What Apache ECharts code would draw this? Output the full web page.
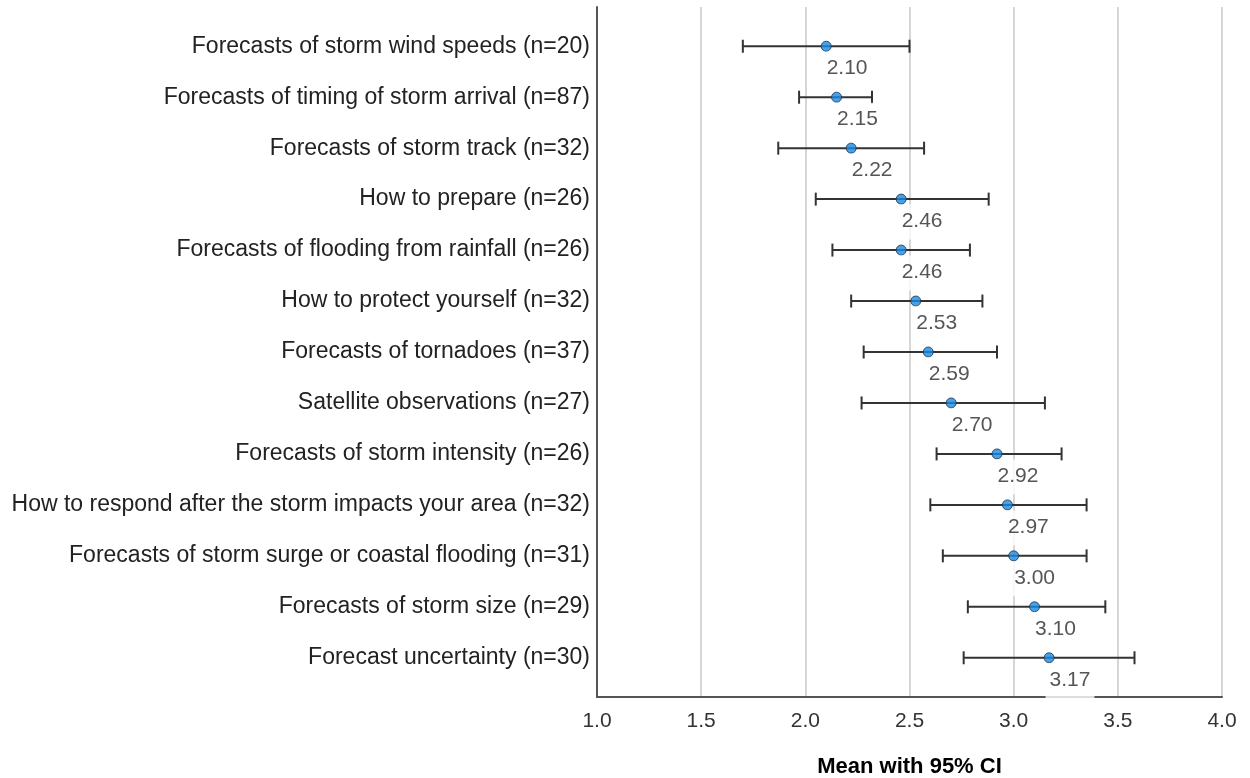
<!DOCTYPE html>
<html>
<head>
<meta charset="utf-8">
<title>Mean with 95% CI</title>
<script src="https://cdn.jsdelivr.net/npm/echarts@6/dist/echarts.min.js"></script>
<style>
  html, body { margin: 0; padding: 0; background: #fff; }
  #chart { width: 1250px; height: 778px; }
</style>
</head>
<body>
<div id="chart"></div>
<script>
// Information items, top to bottom
const categories = [
  'Forecasts of storm wind speeds (n=20)',
  'Forecasts of timing of storm arrival (n=87)',
  'Forecasts of storm track (n=32)',
  'How to prepare (n=26)',
  'Forecasts of flooding from rainfall (n=26)',
  'How to protect yourself (n=32)',
  'Forecasts of tornadoes (n=37)',
  'Satellite observations (n=27)',
  'Forecasts of storm intensity (n=26)',
  'How to respond after the storm impacts your area (n=32)',
  'Forecasts of storm surge or coastal flooding (n=31)',
  'Forecasts of storm size (n=29)',
  'Forecast uncertainty (n=30)'
];
// Means and 95% confidence interval bounds
const means  = [2.10, 2.15, 2.22, 2.46, 2.46, 2.53, 2.59, 2.70, 2.92, 2.97, 3.00, 3.10, 3.17];
const ciLow  = [1.70, 1.97, 1.87, 2.05, 2.13, 2.22, 2.28, 2.27, 2.63, 2.60, 2.66, 2.78, 2.76];
const ciHigh = [2.50, 2.32, 2.57, 2.88, 2.79, 2.85, 2.92, 3.15, 3.23, 3.35, 3.35, 3.44, 3.58];
// Value axis ticks
const xTicks = [1.0, 1.5, 2.0, 2.5, 3.0, 3.5, 4.0];

const FONT = '"Liberation Sans", Arial, sans-serif';
const rowIndex = categories.map((_, i) => i);

const chart = echarts.init(document.getElementById('chart'), null, { renderer: 'canvas' });

chart.setOption({
  animation: false,
  backgroundColor: '#ffffff',
  grid: { left: 597, right: 28, top: 7, bottom: 81, containLabel: false, outerBoundsMode: 'none' },
  xAxis: {
    type: 'value',
    min: xTicks[0],
    max: xTicks[xTicks.length - 1],
    interval: 0.5,
    axisLine: { show: true, onZero: false, lineStyle: { color: '#555555', width: 2 } },
    axisTick: { show: false },
    splitLine: { show: true, lineStyle: { color: '#c8c8c8', width: 1.5 } },
    axisLabel: {
      color: '#333333', fontFamily: FONT, fontSize: 21, margin: 14,
      formatter: v => v.toFixed(1)
    },
    name: 'Mean with 95% CI',
    nameLocation: 'middle',
    nameGap: 59,
    nameTextStyle: { color: '#000000', fontFamily: FONT, fontSize: 22, fontWeight: 'bold' }
  },
  yAxis: {
    type: 'value',
    inverse: true,
    min: -0.77,
    max: 12.77,
    axisLine: { show: true, onZero: false, lineStyle: { color: '#555555', width: 2 } },
    axisTick: { show: false },
    splitLine: { show: false },
    axisLabel: {
      customValues: rowIndex,
      formatter: v => categories[Math.round(v)] || '',
      color: '#222222', fontFamily: FONT, fontSize: 23, margin: 7
    }
  },
  series: [
    {
      // Confidence interval whiskers with end caps
      type: 'custom',
      z: 2,
      data: rowIndex.map(i => [ciLow[i], ciHigh[i], i]),
      encode: { x: [0, 1], y: 2 },
      renderItem: (params, api) => {
        const a = api.coord([api.value(0), api.value(2)]);
        const b = api.coord([api.value(1), api.value(2)]);
        const cap = 6.5;
        const style = { stroke: '#333333', lineWidth: 2, fill: null };
        return {
          type: 'group',
          children: [
            { type: 'line', shape: { x1: a[0], y1: a[1], x2: b[0], y2: b[1] }, style },
            { type: 'line', shape: { x1: a[0], y1: a[1] - cap, x2: a[0], y2: a[1] + cap }, style },
            { type: 'line', shape: { x1: b[0], y1: b[1] - cap, x2: b[0], y2: b[1] + cap }, style }
          ]
        };
      }
    },
    {
      // Mean markers with value labels
      type: 'scatter',
      z: 3,
      symbol: 'circle',
      symbolSize: 10,
      data: rowIndex.map(i => [means[i], i]),
      itemStyle: { color: '#1a8ae0', borderColor: '#1a3550', borderWidth: 1 },
      label: {
        show: true,
        position: [2, 11],
        formatter: p => means[p.dataIndex].toFixed(2),
        color: '#2a2a2a',
        fontFamily: FONT,
        fontSize: 21,
        lineHeight: 25,
        backgroundColor: '#ffffff',
        padding: [4, 4, 6, 4]
      }
    }
  ]
});
</script>
</body>
</html>
